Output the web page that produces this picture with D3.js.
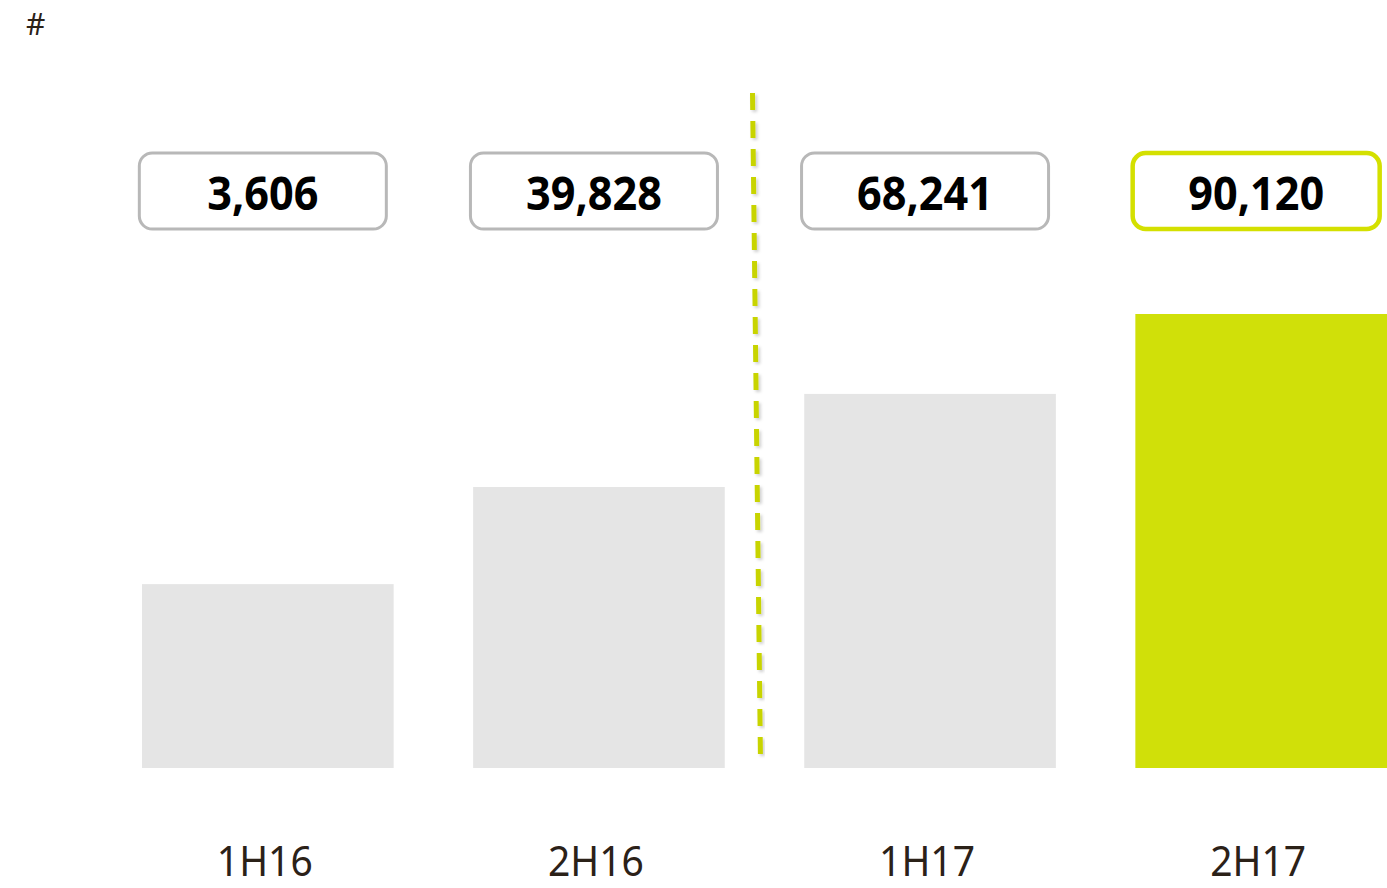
<!DOCTYPE html>
<html><head><meta charset="utf-8">
<script src="https://cdn.jsdelivr.net/npm/d3@7"></script>
<style>html,body{margin:0;padding:0;background:#fff;}svg{display:block;}</style>
</head><body>
<script>
const categories = ["1H16", "2H16", "1H17", "2H17"];
const values = [3606, 39828, 68241, 90120];
const barIndex = [40.5, 61.9, 82.4, 100];   // relative bar heights as drawn (not proportional to values)
const highlight = [false, false, false, true];
const unitLabel = "#";

const W = 1387, H = 888;
const svg = d3.select("body").append("svg").attr("width", W).attr("height", H);

const defs = svg.append("defs");
const f = defs.append("filter").attr("id","sh").attr("x","-50%").attr("y","-10%").attr("width","200%").attr("height","120%");
f.append("feDropShadow").attr("dx",2).attr("dy",2).attr("stdDeviation",1.5).attr("flood-color","#000").attr("flood-opacity",0.18);

const x = d3.scaleBand().domain(categories).range([142, 1387]).paddingInner(0.24).paddingOuter(0);
const y = d3.scaleLinear().domain([0, 100]).range([768, 314]);
const fmt = d3.format(",");
const cx = d => x(d) + x.bandwidth()/2;

svg.append("text").attr("x", 26).attr("y", 35).text(unitLabel)
  .attr("font-family","Noto Sans, DejaVu Sans").attr("font-size", 30).attr("fill","#2b2118");

// bars
svg.selectAll("rect.bar").data(categories).join("rect").attr("class","bar")
  .attr("x", d => x(d)).attr("width", x.bandwidth())
  .attr("y", (d,i) => y(barIndex[i])).attr("height", (d,i) => y(0) - y(barIndex[i]))
  .attr("fill", (d,i) => highlight[i] ? "#d0e009" : "#e5e5e5");

// value boxes
const boxW = 247, boxH = 76;
const g = svg.selectAll("g.box").data(categories).join("g").attr("class","box")
  .attr("transform", d => `translate(${cx(d) - 5},0)`);
g.append("rect").attr("x", -boxW/2).attr("y", 153).attr("width", boxW).attr("height", boxH)
  .attr("rx", 13).attr("ry", 13).attr("fill","#fff")
  .attr("stroke", (d,i) => highlight[i] ? "#d4e000" : "#b8b8b8")
  .attr("stroke-width", (d,i) => highlight[i] ? 4.5 : 3);
g.append("text").attr("transform", "translate(0,210) scale(0.92,1)").attr("text-anchor","middle")
  .attr("font-family","Noto Sans, DejaVu Sans").attr("font-weight","bold")
  .attr("font-size", 47).attr("fill","#000")
  .text((d,i) => fmt(values[i]));

// category labels
svg.selectAll("text.cat").data(categories).join("text").attr("class","cat")
  .attr("transform", d => `translate(${cx(d) - 3},876) scale(0.93,1)`).attr("text-anchor","middle")
  .attr("font-family","Noto Sans, DejaVu Sans").attr("font-size", 42).attr("fill","#2b2118")
  .text(d => d);

// dashed divider between 2H16 and 1H17
const sepX = (x("2H16") + x.bandwidth() + x("1H17")) / 2;
svg.append("line")
  .attr("x1", sepX - 12).attr("y1", 93).attr("x2", sepX - 4).attr("y2", 762)
  .attr("stroke","#c8d400").attr("stroke-width",5).attr("stroke-dasharray","17 11")
  .attr("filter","url(#sh)");
</script>
</body></html>
